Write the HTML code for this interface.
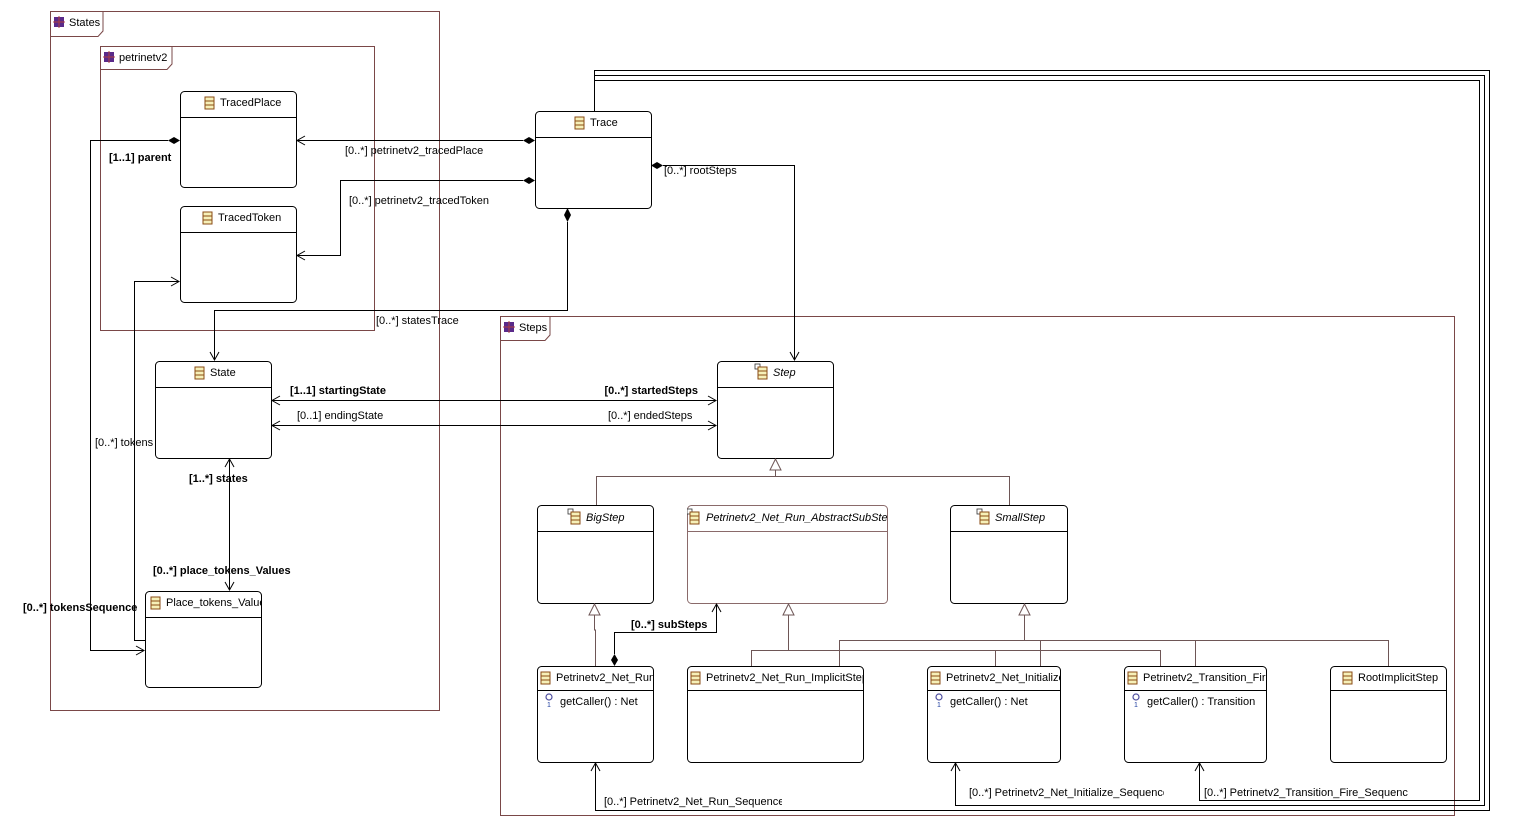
<!DOCTYPE html>
<html><head><meta charset="utf-8">
<style>
html,body{margin:0;padding:0;background:#fff;}
svg{display:block;font-family:"Liberation Sans","DejaVu Sans",sans-serif;font-size:11px;}
.b{font-weight:bold;}
</style></head><body>
<svg width="1513" height="834" viewBox="0 0 1513 834" xmlns="http://www.w3.org/2000/svg">
<defs>
<g id="ci"><rect x="0" y="0" width="9" height="12" fill="#f6f0b8" stroke="#8a4b14" stroke-width="1"/><line x1="0" y1="4" x2="9" y2="4" stroke="#8a4b14"/><line x1="0" y1="8" x2="9" y2="8" stroke="#8a4b14"/></g>
<g id="ai"><rect x="-3" y="-3" width="5" height="5" fill="#fff" stroke="#333" stroke-width="0.8"/><rect x="0" y="0" width="9" height="12" fill="#f6f0b8" stroke="#8a4b14" stroke-width="1"/><line x1="0" y1="4" x2="9" y2="4" stroke="#8a4b14"/><line x1="0" y1="8" x2="9" y2="8" stroke="#8a4b14"/></g>
<g id="pk"><rect x="0" y="0" width="10" height="10" fill="#5a2a8a"/><line x1="5" y1="-1" x2="5" y2="11" stroke="#b04040" stroke-width="1"/><line x1="-1" y1="5" x2="11" y2="5" stroke="#b04040" stroke-width="1"/></g>
<g id="op"><circle cx="4" cy="4" r="3" fill="none" stroke="#5050a0" stroke-width="1.2"/><text x="2" y="14" font-size="7" fill="#2040a0">1</text></g>
</defs>

<!-- packages -->
<g fill="none" stroke="#7a4848" stroke-width="1">
<rect x="50.5" y="11.5" width="389" height="699"/>
<path d="M50.5 36.5 H98 L103 31 V11.5"/>
<rect x="100.5" y="46.5" width="274" height="284"/>
<path d="M100.5 69.5 H167 L172 64 V46.5"/>
<rect x="500.5" y="316.5" width="954" height="499"/>
<path d="M500.5 340.5 H545 L550 335 V316.5"/>
</g>
<use href="#pk" x="54" y="17"/><text x="69" y="26">States</text>
<use href="#pk" x="104" y="52"/><text x="119" y="61">petrinetv2</text>
<use href="#pk" x="504" y="322"/><text x="519" y="331">Steps</text>

<!-- boxes -->
<g stroke-width="1" fill="#fff">
<g stroke="#000">
<rect x="180.5" y="91.5" width="116" height="96" rx="4"/>
<rect x="180.5" y="206.5" width="116" height="96" rx="4"/>
<rect x="535.5" y="111.5" width="116" height="97" rx="4"/>
<rect x="155.5" y="361.5" width="116" height="97" rx="4"/>
<rect x="145.5" y="591.5" width="116" height="96" rx="4"/>
<rect x="717.5" y="361.5" width="116" height="97" rx="4"/>
<rect x="537.5" y="505.5" width="116" height="98" rx="4"/>
<rect x="950.5" y="505.5" width="117" height="98" rx="4"/>
<rect x="537.5" y="666.5" width="116" height="96" rx="4"/>
<rect x="687.5" y="666.5" width="176" height="96" rx="4"/>
<rect x="927.5" y="666.5" width="133" height="96" rx="4"/>
<rect x="1124.5" y="666.5" width="142" height="96" rx="4"/>
<rect x="1330.5" y="666.5" width="116" height="96" rx="4"/>
</g>
<rect x="687.5" y="505.5" width="200" height="98" rx="4" stroke="#8a6a6a"/>
</g>
<g stroke="#000">
<line x1="180" y1="117.5" x2="296" y2="117.5"/>
<line x1="180" y1="232.5" x2="296" y2="232.5"/>
<line x1="535" y1="137.5" x2="651" y2="137.5"/>
<line x1="155" y1="387.5" x2="271" y2="387.5"/>
<line x1="145" y1="617.5" x2="261" y2="617.5"/>
<line x1="717" y1="387.5" x2="833" y2="387.5"/>
<line x1="537" y1="531.5" x2="653" y2="531.5"/>
<line x1="950" y1="531.5" x2="1067" y2="531.5"/>
<line x1="537" y1="690.5" x2="653" y2="690.5"/>
<line x1="687" y1="690.5" x2="863" y2="690.5"/>
<line x1="927" y1="690.5" x2="1060" y2="690.5"/>
<line x1="1124" y1="690.5" x2="1266" y2="690.5"/>
<line x1="1330" y1="690.5" x2="1446" y2="690.5"/>
</g>
<line x1="687" y1="531.5" x2="887" y2="531.5" stroke="#8a6a6a"/>

<!-- titles -->
<use href="#ci" x="205" y="97"/><text x="220" y="106">TracedPlace</text>
<use href="#ci" x="203" y="212"/><text x="218" y="221">TracedToken</text>
<use href="#ci" x="575" y="117"/><text x="590" y="126">Trace</text>
<use href="#ci" x="195" y="367"/><text x="210" y="376">State</text>
<svg x="145" y="591" width="116" height="26"><use href="#ci" x="6" y="6"/><text x="21" y="15">Place_tokens_Value</text></svg>
<use href="#ai" x="758" y="367"/><text x="773" y="376" font-style="italic">Step</text>
<use href="#ai" x="571" y="512"/><text x="586" y="521" font-style="italic">BigStep</text>
<svg x="687" y="505" width="200" height="26"><use href="#ai" x="3" y="7"/><text x="19" y="16" font-style="italic">Petrinetv2_Net_Run_AbstractSubStep</text></svg>
<use href="#ai" x="980" y="512"/><text x="995" y="521" font-style="italic">SmallStep</text>
<svg x="537" y="666" width="117" height="24"><use href="#ci" x="4" y="6"/><text x="19" y="15">Petrinetv2_Net_Run</text></svg>
<svg x="687" y="666" width="177" height="24"><use href="#ci" x="4" y="6"/><text x="19" y="15">Petrinetv2_Net_Run_ImplicitStep</text></svg>
<svg x="927" y="666" width="134" height="24"><use href="#ci" x="4" y="6"/><text x="19" y="15">Petrinetv2_Net_Initialize</text></svg>
<svg x="1124" y="666" width="143" height="24"><use href="#ci" x="4" y="6"/><text x="19" y="15">Petrinetv2_Transition_Fire</text></svg>
<use href="#ci" x="1343" y="672"/><text x="1358" y="681">RootImplicitStep</text>
<!-- ops -->
<use href="#op" x="545" y="693"/><text x="560" y="705">getCaller() : Net</text>
<use href="#op" x="935" y="693"/><text x="950" y="705">getCaller() : Net</text>
<use href="#op" x="1132" y="693"/><text x="1147" y="705">getCaller() : Transition</text>

<!-- generalizations -->
<g fill="none" stroke="#6e5656" stroke-width="1">
<path d="M775.5 470 V476.5 M596.5 505 V476.5 H1009.5 V505"/>
<path d="M594.5 615 V630 H595.5 V666"/>
<path d="M788.5 615 V650.5 M751.5 666 V650.5 H1160.5 V666 M995.5 650.5 V666"/>
<path d="M1024.5 615 V640.5 M839.5 666 V640.5 H1388.5 V666 M1040.5 640.5 V666 M1195.5 640.5 V666"/>
</g>
<g fill="#fff" stroke="#6e5656">
<path d="M775.5 459 L770 470 H781 Z"/>
<path d="M594.5 604 L589 615 H600 Z"/>
<path d="M788.5 604 L783 615 H794 Z"/>
<path d="M1024.5 604 L1019 615 H1030 Z"/>
</g>

<!-- associations -->
<g fill="none" stroke="#000" stroke-width="1">
<path d="M523 140.5 H297"/>
<path d="M523 180.5 H340.5 V255.5 H297"/>
<path d="M168 140.5 H90.5 V650.5 H144"/>
<path d="M145 640.5 H134.5 V281.5 H179"/>
<path d="M567.5 222 V310.5 H214.5 V360"/>
<path d="M663 165.5 H794.5 V360"/>
<path d="M272 400.5 H716"/>
<path d="M272 425.5 H716"/>
<path d="M229.5 459 V590"/>
<path d="M614.5 654 V632.5 H716.5 V604"/>
<path d="M594.5 111 V70.5 H1489.5 V810.5 H595.5 V763"/>
<path d="M594.5 75.5 H1484.5 V805.5 H955.5 V763"/>
<path d="M594.5 80.5 H1479.5 V800.5 H1199.5 V763"/>
<path d="M305 136 L297 140.5 L305 145"/>
<path d="M305 251 L297 255.5 L305 260"/>
<path d="M136 646 L144 650.5 L136 655"/>
<path d="M171 277 L179 281.5 L171 286"/>
<path d="M210 352 L214.5 360 L219 352"/>
<path d="M790 352 L794.5 360 L799 352"/>
<path d="M280 396 L272 400.5 L280 405"/>
<path d="M708 396 L716 400.5 L708 405"/>
<path d="M280 421 L272 425.5 L280 430"/>
<path d="M708 421 L716 425.5 L708 430"/>
<path d="M225 467 L229.5 459 L234 467"/>
<path d="M225 582 L229.5 590 L234 582"/>
<path d="M712 612 L716.5 604 L721 612"/>
<path d="M591 771 L595.5 763 L600 771"/>
<path d="M951 771 L955.5 763 L960 771"/>
<path d="M1195 771 L1199.5 763 L1204 771"/>
</g>
<g fill="#000">
<path d="M535 140.5 L529 137 L523 140.5 L529 144 Z"/>
<path d="M535 180.5 L529 177 L523 180.5 L529 184 Z"/>
<path d="M180 140.5 L174 137 L168 140.5 L174 144 Z"/>
<path d="M567.5 208 L564 215 L567.5 222 L571 215 Z"/>
<path d="M651 165.5 L657 162 L663 165.5 L657 169 Z"/>
<path d="M614.5 666 L611 660 L614.5 654 L618 660 Z"/>
</g>

<!-- labels -->
<text x="345" y="154">[0..*] petrinetv2_tracedPlace</text>
<svg x="349" y="190" width="148" height="20"><text x="0" y="14">[0..*] petrinetv2_tracedToken</text></svg>
<text x="109" y="161" class="b">[1..1] parent</text>
<text x="23" y="611" class="b">[0..*] tokensSequence</text>
<svg x="95" y="432" width="63" height="20"><text x="0" y="14">[0..*] tokens</text></svg>
<svg x="376" y="310" width="84" height="20"><text x="0" y="14">[0..*] statesTrace</text></svg>
<text x="664" y="174">[0..*] rootSteps</text>
<text x="290" y="394" class="b">[1..1] startingState</text>
<text x="698" y="394" class="b" text-anchor="end">[0..*] startedSteps</text>
<text x="297" y="419">[0..1] endingState</text>
<svg x="608" y="405" width="86" height="20"><text x="0" y="14">[0..*] endedSteps</text></svg>
<text x="189" y="482" class="b">[1..*] states</text>
<text x="153" y="574" class="b">[0..*] place_tokens_Values</text>
<text x="631" y="628" class="b">[0..*] subSteps</text>
<svg x="604" y="791" width="178" height="20"><text x="0" y="14">[0..*] Petrinetv2_Net_Run_Sequence</text></svg>
<svg x="969" y="782" width="195" height="20"><text x="0" y="14">[0..*] Petrinetv2_Net_Initialize_Sequence</text></svg>
<svg x="1204" y="782" width="204" height="20"><text x="0" y="14">[0..*] Petrinetv2_Transition_Fire_Sequence</text></svg>
</svg>
</body></html>
